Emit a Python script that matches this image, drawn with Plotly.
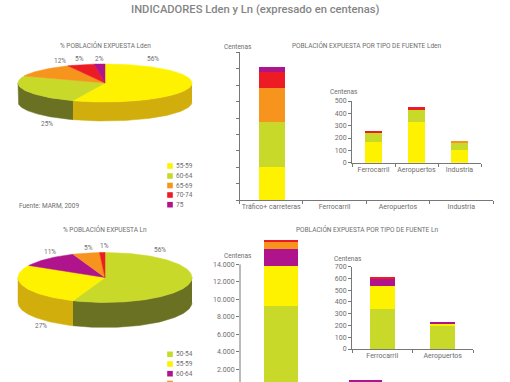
import numpy as np
import plotly.graph_objects as go

W, H = 510, 382
FONT = "Roboto"
TXT = "#6e6e6e"
AX = "#777777"

YELLOW, GREEN, ORANGE, RED, PURPLE = "#fff200", "#c9d92a", "#f7941d", "#ed1c24", "#b0148c"
DARK = {YELLOW: "#d2ae0c", GREEN: "#6a7122", ORANGE: "#b56a10", RED: "#a81218", PURPLE: "#7d0e64"}

pie1_labels = ["55-59", "60-64", "65-69", "70-74", "75"]
pie1_values = [56, 25, 12, 5, 2]
pie1_colors = [YELLOW, GREEN, ORANGE, RED, PURPLE]
pie2_labels = ["50-54", "55-59", "60-64", "65-69", "70-74"]
pie2_values = [56, 27, 11, 5, 1]
pie2_colors = [GREEN, YELLOW, PURPLE, ORANGE, RED]
big1_cats = ["Tráfico+ carreteras", "Ferrocarril", "Aeropuertos", "Industria"]
big1_55_59 = [4000, 0, 0, 0]
big1_60_64 = [5500, 0, 0, 0]
big1_65_69 = [4050, 0, 0, 0]
big1_70_74 = [2030, 0, 0, 0]
big1_75 = [610, 0, 0, 0]
big1_ticks = [0, 2000, 4000, 6000, 8000, 10000, 12000, 14000, 16000, 18000]
inset1_cats = ["Ferrocarril", "Aeropuertos", "Industria"]
inset1_55_59 = [165, 330, 100]
inset1_60_64 = [75, 100, 60]
inset1_65_69 = [0, 0, 15]
inset1_70_74 = [20, 20, 0]
inset1_ticks = [0, 100, 200, 300, 400, 500]
big2_cats = ["Tráfico+ carreteras", "Ferrocarril", "Aeropuertos"]
big2_50_54 = [9260, 340, 205]
big2_55_59 = [4585, 195, 15]
big2_60_64 = [1880, 185, 15]
big2_65_69 = [870, 0, 0]
big2_70_74 = [190, 0, 0]
big2_tickvals = [2000, 4000, 6000, 8000, 10000, 12000, 14000]
big2_ticktext = ["2.000", "4.000", "6.000", "8.000", "10.000", "12.000", "14.000"]
inset2_cats = ["Ferrocarril", "Aeropuertos"]
inset2_50_54 = [340, 205]
inset2_55_59 = [195, 15]
inset2_60_64 = [70, 15]
inset2_70_74 = [12, 0]
inset2_ticks = [0, 100, 200, 300, 400, 500, 600, 700]

fig = go.Figure()


def wedge_pts(cx, cy, rx, ry, a0, a1):
    t = np.radians(np.linspace(a0, a1, max(2, int(abs(a1 - a0)) + 2)))
    return cx + rx * np.sin(t), cy - ry * np.cos(t)


def add_pie(values, colors, cx, cy, rx, ry, depth):
    total = sum(values)
    edges = np.concatenate([[0], np.cumsum(values)]) * 360.0 / total
    for i, c in enumerate(colors):
        a0, a1 = max(edges[i], 90), min(edges[i + 1], 270)
        if a1 <= a0:
            continue
        x, y = wedge_pts(cx, cy, rx, ry, a0, a1)
        px = np.concatenate([x, x[::-1]])
        py = np.concatenate([y, y[::-1] + depth])
        fig.add_trace(go.Scatter(x=px, y=py, mode="lines", fill="toself", fillcolor=DARK[c],
                                 line=dict(width=0.5, color=DARK[c]), hoverinfo="skip", xaxis="x", yaxis="y"))
    for i, c in enumerate(colors):
        x, y = wedge_pts(cx, cy, rx, ry, edges[i], edges[i + 1])
        px = np.concatenate([[cx], x, [cx]])
        py = np.concatenate([[cy], y, [cy]])
        fig.add_trace(go.Scatter(x=px, y=py, mode="lines", fill="toself", fillcolor=c,
                                 line=dict(width=0.5, color=c), hoverinfo="skip", xaxis="x", yaxis="y"))


def add_stack(cats, series, colors, ax, width):
    for vals, c in zip(series, colors):
        fig.add_trace(go.Bar(x=cats, y=vals, marker=dict(color=c, line=dict(width=0)), width=width,
                             xaxis="x" + ax, yaxis="y" + ax, hoverinfo="skip"))


def text(s, x, y, size=7, anchor="center", color=TXT, weight=None, yshift=0):
    fig.add_annotation(text=s, x=x, y=y, xref="x", yref="y", showarrow=False, xanchor=anchor, yanchor="middle",
                       yshift=yshift, font=dict(family=FONT, size=size, color=color, weight=weight), borderpad=0)


def legend(labels, colors, x, ys):
    for lab, c, y in zip(labels, colors, ys):
        fig.add_shape(type="rect", xref="x", yref="y", x0=x - 2.8, x1=x + 2.8, y0=y - 2.8, y1=min(y + 2.8, H),
                      fillcolor=c, line=dict(width=0), layer="above")
        if y < H - 2:
            text(lab, x + 5, y, size=6.5, anchor="left")
        else:
            # last row is cut by the bottom edge of the picture
            text(lab, x + 5, H - 0.5, size=6.5, anchor="left", yshift=-3)


def xdom(a, b):
    return [a / W, b / W]


def ydom(top, bottom):
    return [1 - bottom / H, 1 - top / H]


def x_axis(a, b, rng, visible=True):
    return dict(domain=xdom(a, b), range=rng, type="category", tickson="boundaries", ticks="outside", ticklen=3,
                tickcolor=AX, showline=True, linecolor=AX, linewidth=1, showgrid=False, zeroline=False, tickangle=0,
                tickfont=dict(family=FONT, size=7, color=TXT), fixedrange=True, visible=visible, automargin=False)


def y_axis(top, bottom, rng, anchor, tickvals, ticktext=None, labels=True, line=True):
    return dict(domain=ydom(top, bottom), range=rng, anchor=anchor, tickmode="array", tickvals=tickvals,
                ticktext=ticktext if ticktext else [str(v) for v in tickvals], showticklabels=labels,
                ticks="outside", ticklen=3, tickcolor=AX, showline=line, linecolor=AX, linewidth=1, automargin=False,
                showgrid=False, zeroline=False, tickfont=dict(family=FONT, size=7, color=TXT), fixedrange=True)


add_pie(pie1_values, pie1_colors, 105, 83, 87, 19, 19)
add_pie(pie2_values, pie2_colors, 105, 277.5, 87, 25, 25)

add_stack(big1_cats, [big1_55_59, big1_60_64, big1_65_69, big1_70_74, big1_75],
          [YELLOW, GREEN, ORANGE, RED, PURPLE], "2", 0.41)
add_stack(inset1_cats, [inset1_55_59, inset1_60_64, inset1_65_69, inset1_70_74],
          [YELLOW, GREEN, ORANGE, RED], "3", 0.4)
add_stack(big2_cats, [big2_50_54, big2_55_59, big2_60_64, big2_65_69, big2_70_74],
          [GREEN, YELLOW, PURPLE, ORANGE, RED], "4", 0.4)
add_stack(inset2_cats, [inset2_50_54, inset2_55_59, inset2_60_64, inset2_70_74],
          [GREEN, YELLOW, PURPLE, RED], "5", 0.42)

fig.add_shape(type="line", xref="x4 domain", yref="y4", x0=0, x1=0, y0=516, y1=14000,
              line=dict(color=AX, width=1), layer="above")

legend(pie1_labels, pie1_colors, 170, [166, 176, 185.5, 195, 204.7])
legend(pie2_labels[:4], pie2_colors[:4], 170, [354.3, 364, 373.7, 383.5])

text("INDICADORES Lden y Ln (expresado en centenas)", 255, 9, size=11.2, color="#858585", weight=500)
text("% POBLACIÓN EXPUESTA Lden", 105, 45, size=6.5)
text("POBLACIÓN EXPUESTA POR TIPO DE FUENTE Lden", 366.5, 45, size=6.5)
text("% POBLACIÓN EXPUESTA Ln", 105, 229, size=6.5)
text("POBLACIÓN EXPUESTA POR TIPO DE FUENTE Ln", 367, 229, size=6.5)
text("Fuente: MARM, 2009", 18, 206, size=6.5, anchor="left")
text("Centenas", 238, 46.7, size=6.5)
text("Centenas", 344, 92, size=6.5)
text("Centenas", 238, 255.7, size=6.5)
text("Centenas", 348, 258.7, size=6.5)
for pct, x, y in [("56%", 153, 59), ("25%", 47, 124), ("12%", 60, 61), ("5%", 79, 59), ("2%", 99, 59),
                  ("56%", 160, 250), ("27%", 41, 326), ("11%", 50, 252), ("5%", 88, 248), ("1%", 104, 246)]:
    text(pct, x, y, size=6.5)

fig.update_layout(
    width=W, height=H, autosize=False, margin=dict(l=0, r=0, t=0, b=0), paper_bgcolor="white", plot_bgcolor="rgba(0,0,0,0)",
    showlegend=False, barmode="stack", bargap=0,
    xaxis=dict(domain=[0, 1], range=[0, W], visible=False, fixedrange=True),
    yaxis=dict(domain=[0, 1], range=[H, 0], visible=False, fixedrange=True),
    xaxis2=x_axis(239.5, 493, [-0.5, 3.5]),
    yaxis2=y_axis(52.4, 200, [0, 18000], "x2", big1_ticks, labels=False),
    xaxis3=x_axis(352, 481, [-0.5, 2.5]),
    yaxis3=y_axis(101, 162.7, [0, 500], "x3", inset1_ticks),
    xaxis4=dict(x_axis(240, 510, [-0.485, 2.71], visible=False), anchor="y4"),
    yaxis4=y_axis(238.2, 382, [516, 17000], "x4", big2_tickvals, big2_ticktext, line=False),
    xaxis5=x_axis(352, 473, [-0.5, 1.5]),
    yaxis5=y_axis(266.7, 349, [0, 700], "x5", inset2_ticks),
)
for ax in ("2", "3", "5"):
    fig.layout["xaxis" + ax].anchor = "y" + ax

fig.write_html("out.html", config=dict(displayModeBar=False),
               post_script="document.body.style.margin='0';document.body.style.overflow='hidden';")
